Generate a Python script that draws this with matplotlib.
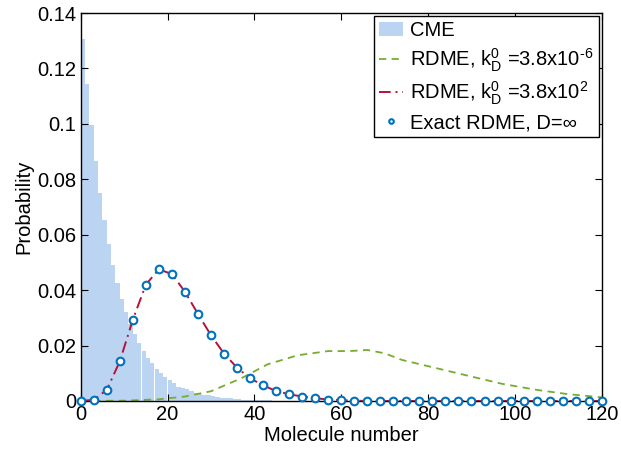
import numpy as np
import matplotlib
matplotlib.use("Agg")
import matplotlib.pyplot as plt

plt.rcParams['font.family'] = ['Liberation Sans', 'DejaVu Sans']
plt.rcParams['mathtext.fontset'] = 'custom'
plt.rcParams['mathtext.rm'] = 'Liberation Sans'
plt.rcParams['mathtext.it'] = 'Liberation Sans'

# CME histogram (molecule number 0, 1, 2, ...)
cme_prob = [0.1306, 0.1144, 0.0996, 0.0866, 0.0750, 0.0653, 0.0567, 0.0490,
            0.0427, 0.0368, 0.0321, 0.0278, 0.0242, 0.0210, 0.0180, 0.0156,
            0.0138, 0.0115, 0.0102, 0.0088, 0.0076, 0.0066, 0.0052, 0.0048,
            0.0042, 0.0037, 0.0030, 0.0026, 0.0023, 0.0021, 0.0018, 0.0014,
            0.0012, 0.0010, 0.0009, 0.0008, 0.0006, 0.0005, 0.0005, 0.0004,
            0.0003, 0.0003, 0.0002, 0.0002, 0.0001, 0.0001]
cme_n = list(range(len(cme_prob)))

# RDME, k = 3.8e-6 (green dashed)
slow_n = [0, 10, 18, 24, 30, 37, 43, 50, 57, 62, 66, 70, 74, 82, 90, 97, 105, 112, 120]
slow_prob = [0.0, 0.0001, 0.0006, 0.0016, 0.0035, 0.0082, 0.0132, 0.0165, 0.0180,
             0.0180, 0.0184, 0.0172, 0.0148, 0.0118, 0.0088, 0.0062, 0.0040,
             0.0025, 0.0013]

# Exact RDME (circles) and RDME k = 3.8e2 (red dash-dot), sampled every 3 molecules
exact_n = list(range(0, 121, 3))
exact_prob = [0.0, 0.0004, 0.0040, 0.0143, 0.0293, 0.0420, 0.0475, 0.0458,
              0.0394, 0.0314, 0.0237, 0.0171, 0.0120, 0.0082, 0.0056, 0.0036,
              0.0024, 0.0016, 0.0010, 0.0005, 0.0003, 0.0001, 0.0, 0.0, 0.0,
              0.0, 0.0, 0.0, 0.0, 0.0, 0.0, 0.0, 0.0, 0.0, 0.0, 0.0, 0.0, 0.0,
              0.0, 0.0, 0.0]
fast_n = exact_n
fast_prob = exact_prob

xticks = [0, 20, 40, 60, 80, 100, 120]
yticks = [0, 0.02, 0.04, 0.06, 0.08, 0.1, 0.12, 0.14]
ytick_labels = ['0', '0.02', '0.04', '0.06', '0.08', '0.1', '0.12', '0.14']

fig = plt.figure(figsize=(6.21, 4.5), dpi=100)
ax = fig.add_axes([0.130, 0.109, 0.839, 0.862])

h_bar = ax.bar(cme_n, cme_prob, width=0.98, align='edge', color='#BAD4F2',
               linewidth=0, label='CME', zorder=1)
h_slow, = ax.plot(slow_n, slow_prob, linestyle=(0, (4, 3)), color='#77AC30', lw=1.3,
                  label=r'RDME, k$_\mathregular{D}^\mathregular{0}$ =3.8x10$^\text{-6}$', zorder=2)
h_fast, = ax.plot(fast_n, fast_prob, linestyle=(0, (6, 2.5, 1, 2.5)), color='#B5123A', lw=1.4,
                  label=r'RDME, k$_\mathregular{D}^\mathregular{0}$ =3.8x10$^\mathregular{2}$', zorder=3)
h_exact, = ax.plot(exact_n, exact_prob, linestyle='none', marker='o', markersize=5.5,
                   markerfacecolor='white', markeredgecolor='#0072BD', markeredgewidth=1.5,
                   label='Exact RDME, D=∞', zorder=4, clip_on=False)

ax.set_xlim(0, 120)
ax.set_ylim(0, 0.14)
ax.set_xticks(xticks)
ax.set_yticks(yticks)
ax.set_yticklabels(ytick_labels)
ax.tick_params(direction='in', top=True, right=True, labelsize=14.5, length=5,
               width=0.8, pad=3)
for s in ax.spines.values():
    s.set_linewidth(1.0)
ax.set_xlabel('Molecule number', fontsize=14.5, labelpad=1)
ax.set_ylabel('Probability', fontsize=14.5, labelpad=3)

leg = ax.legend(handles=[h_bar, h_slow, h_fast, h_exact], loc='upper right',
                fontsize=14.5, frameon=True, fancybox=False,
                edgecolor='black', framealpha=1, handlelength=1.2,
                handletextpad=0.35, borderpad=0.25, labelspacing=0.3,
                borderaxespad=0.15, markerscale=0.6)
leg.get_frame().set_linewidth(1.0)

fig.savefig('out.png', dpi=100)
